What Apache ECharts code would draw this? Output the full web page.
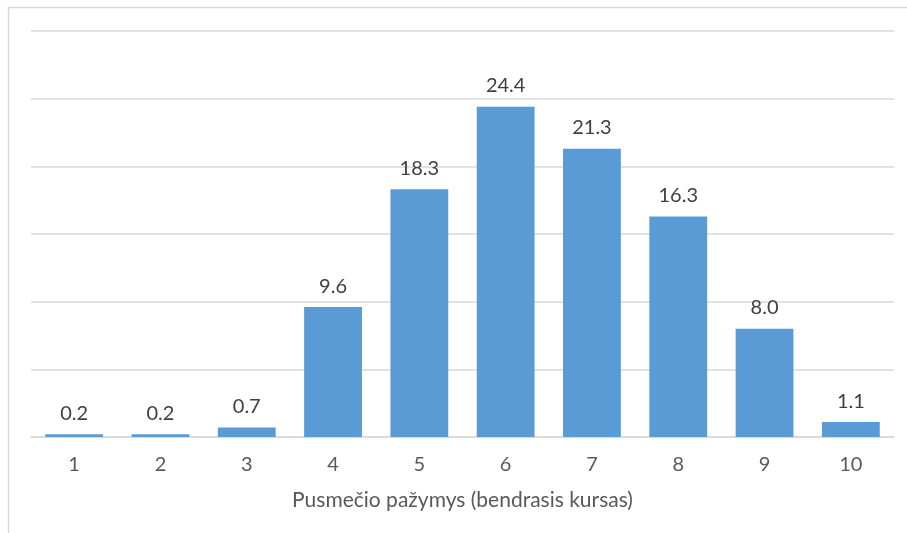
<!DOCTYPE html>
<html>
<head>
<meta charset="utf-8">
<script src="https://cdn.jsdelivr.net/npm/echarts@6/dist/echarts.min.js"></script>
<style>
  html, body { margin: 0; padding: 0; background: #fff; }
  #chart { width: 907px; height: 533px; }
</style>
</head>
<body>
<div id="chart"></div>
<script>
const grades = ["1", "2", "3", "4", "5", "6", "7", "8", "9", "10"];
const shares = [0.2, 0.2, 0.7, 9.6, 18.3, 24.4, 21.3, 16.3, 8.0, 1.1];
const axisTitle = "Pusmečio pažymys (bendrasis kursas)";

const chart = echarts.init(document.getElementById("chart"));
const font = "Lato, 'Open Sans', sans-serif";

chart.setOption({
  animation: false,
  textStyle: { fontFamily: font },
  graphic: [
    {
      type: "rect",
      shape: { x: 8.5, y: 7.5, width: 1000, height: 1000 },
      style: { fill: "none", stroke: "#d9d9d9", lineWidth: 1.5 },
      silent: true
    }
  ],
  grid: { left: 31, right: 13, top: 31, bottom: 96 },
  xAxis: {
    type: "category",
    data: grades,
    name: axisTitle,
    nameLocation: "middle",
    nameGap: 53,
    nameTextStyle: { color: "#595959", fontSize: 21, fontFamily: font },
    axisLine: { lineStyle: { color: "#d9d9d9", width: 1.5 } },
    axisTick: { show: false },
    axisLabel: { color: "#595959", fontSize: 20, margin: 18, fontFamily: font }
  },
  yAxis: {
    type: "value",
    min: 0,
    max: 30,
    interval: 5,
    axisLine: { show: false },
    axisTick: { show: false },
    axisLabel: { show: false },
    splitLine: { lineStyle: { color: "#d9d9d9", width: 1.5 } }
  },
  series: [
    {
      type: "bar",
      data: shares,
      barWidth: "67%",
      itemStyle: { color: "#5b9bd5" },
      label: {
        show: true,
        position: "top",
        distance: 11,
        color: "#404040",
        fontSize: 20,
        fontFamily: font,
        formatter: p => p.value.toFixed(1)
      }
    }
  ]
});
</script>
</body>
</html>
